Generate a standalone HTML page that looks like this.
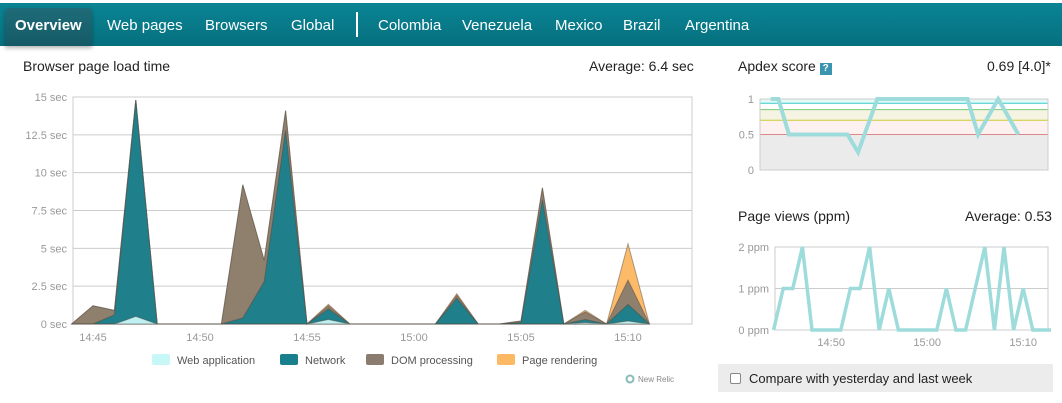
<!DOCTYPE html>
<html><head><meta charset="utf-8">
<style>
body{margin:0;width:1062px;height:403px;background:#fff;font-family:"Liberation Sans",sans-serif;overflow:hidden;position:relative}
#nav{position:absolute;left:0;top:3px;width:1062px;height:43px;background:linear-gradient(#0a8494,#06707f)}
.ni{position:absolute;top:14px;color:#fff;font-size:15px}
#ov{position:absolute;left:5px;top:5px;width:87px;height:38px;background:linear-gradient(#1e6c78,#145a66);border-radius:4px 4px 0 0;box-shadow:0 2px 4px rgba(0,0,0,.3)}
.t{position:absolute;font-size:14px;color:#222}
</style></head><body>
<div id="nav">
<div id="ov"></div>
<div class="ni" style="left:15px;font-weight:bold">Overview</div>
<div class="ni" style="left:107px">Web pages</div>
<div class="ni" style="left:205px">Browsers</div>
<div class="ni" style="left:291px">Global</div>
<div style="position:absolute;left:356px;top:9px;width:2px;height:25px;background:#fff"></div>
<div class="ni" style="left:378px">Colombia</div>
<div class="ni" style="left:462px">Venezuela</div>
<div class="ni" style="left:555px">Mexico</div>
<div class="ni" style="left:623px">Brazil</div>
<div class="ni" style="left:685px">Argentina</div>
</div>
<div class="t" style="left:23px;top:58px">Browser page load time</div>
<div class="t" style="left:589px;top:58px">Average: 6.4 sec</div>
<div class="t" style="left:738px;top:58px">Apdex score <span style="display:inline-block;width:12px;height:12px;background:#3a95b0;color:#fff;font-size:10px;text-align:center;line-height:12px;font-weight:bold">?</span></div>
<div class="t" style="left:987px;top:58px">0.69 [4.0]*</div>
<div class="t" style="left:738px;top:208px">Page views (ppm)</div>
<div class="t" style="left:965px;top:208px">Average: 0.53</div>
<div style="position:absolute;left:718px;top:364px;width:335px;height:28px;background:#ececec">
<div style="position:absolute;left:12px;top:9px;width:9px;height:9px;border:1px solid #888;background:#fff;border-radius:2px"></div>
<div style="position:absolute;left:31px;top:7px;font-size:13px;color:#222">Compare with yesterday and last week</div>
</div>
<svg id="svg" width="1062" height="403" style="position:absolute;left:0;top:0"></svg>
<script>
const minutes=[44,45,46,47,48,49,50,51,52,53,54,55,56,57,58,59,60,61,62,63,64,65,66,67,68,69,70,71];
const webApp=[0,0,0,0.5,0,0,0,0,0,0,0,0,0.3,0,0,0,0,0,0,0,0,0,0,0,0.1,0,0.2,0];
const network=[0,0,0.6,14.3,0,0,0,0,0.4,2.8,12.8,0,0.7,0,0,0,0,0,1.7,0,0,0.1,8.2,0,0.2,0,1.1,0];
const dom=[0,1.2,0.3,0,0,0,0,0,8.8,1.4,1.3,0,0.2,0,0,0,0,0,0.2,0,0,0.1,0.8,0,0.5,0,1.6,0];
const render=[0,0,0,0,0,0,0,0,0,0,0,0,0.1,0,0,0,0,0,0.1,0,0,0,0,0,0.1,0,2.4,0];
const yTicks=[0,2.5,5,7.5,10,12.5,15];
const yTickLabels=["0 sec","2.5 sec","5 sec","7.5 sec","10 sec","12.5 sec","15 sec"];
const xTicks=[45,50,55,60,65,70];
const xTickLabels=["14:45","14:50","14:55","15:00","15:05","15:10"];
const apdexTimes=[43.7,44.5,45.6,51.7,52.8,54.8,64.2,65.3,67.4,69.5];
const apdexVals=[1,1,0.5,0.5,0.25,1,1,0.5,1,0.5];
const pvMinutes=[44,45,46,47,48,49,50,51,52,53,54,55,56,57,58,59,60,61,62,63,64,65,66,67,68,69,70,71,72,72.9];
const pvVals=[0,1,1,2,0,0,0,0,1,1,2,0,1,0,0,0,0,0,1,0,0,1,2,0,2,0,1,0,0,0];
const pvTicks=[0,1,2];const pvTickLabels=["0 ppm","1 ppm","2 ppm"];
const pvXTicks=[50,60,70];const pvXLabels=["14:50","15:00","15:10"];

const S=document.getElementById('svg'),NS='http://www.w3.org/2000/svg';
function mk(t,a,n){const e=document.createElementNS(NS,t);for(const k in a)e.setAttribute(k,a[k]);


S.appendChild(e);return e;}
// main chart
const X=m=>93+(m-45)*21.4, Y=v=>324-v*(227/15);
yTicks.forEach((v,i)=>{mk('line',{x1:73,x2:692,y1:Y(v),y2:Y(v),stroke:'#ccc'},'y-gridline');
const t=mk('text',{x:67,y:Y(v)+4,'text-anchor':'end','font-size':11,fill:'#999'},'y-tick-label');t.textContent=yTickLabels[i];});
mk('rect',{x:73,y:97,width:619,height:227,fill:'none',stroke:'#ccc'},'plot-frame');
const series=[[webApp,'#c8f7f7'],[network,'#1a7f8c'],[dom,'#8a7c6e'],[render,'#fdb863']];
const names=['web-application-area','network-area','dom-processing-area','page-rendering-area'];
let cum=minutes.map(()=>0);const layers=[];
series.forEach(s=>{const lo=cum.slice();cum=cum.map((c,i)=>c+s[0][i]);layers.push([lo,cum.slice(),s[1]]);});
for(let k=layers.length-1;k>=0;k--){const[lo,hi,c]=layers[k];
let d='M'+minutes.map((m,i)=>X(m)+','+Y(hi[i])).join('L')+'L'+X(71)+','+Y(0)+'L'+X(44)+','+Y(0)+'Z';
mk('path',{d,fill:c,stroke:'rgba(80,70,60,0.5)','stroke-width':1,opacity:0.95},names[k]);}
xTicks.forEach((m,i)=>{const t=mk('text',{x:X(m),y:341,'text-anchor':'middle','font-size':11,fill:'#999'},'x-tick-label');t.textContent=xTickLabels[i];});
const leg=[['Web application','#c8f7f7',152],['Network','#1a7f8c',280],['DOM processing','#8a7c6e',366],['Page rendering','#fdb863',497]];
leg.forEach(l=>{mk('rect',{x:l[2],y:354,width:18,height:11,rx:2,fill:l[1]},'legend-swatch');
const t=mk('text',{x:l[2]+25,y:364,'font-size':11,fill:'#555'},'legend-entry');t.textContent=l[0];});
mk('circle',{cx:630,cy:379,r:3.5,fill:'none',stroke:'#8bb',"stroke-width":2},'new-relic-logo');
const nr=mk('text',{x:638,y:382,'font-size':8,fill:'#888'},'new-relic-label');nr.textContent='New Relic';
// apdex
const AX=m=>773.6+(m-44)*9.6, AY=v=>170-v*71;
mk('rect',{x:760,y:AY(0.5),width:288,height:AY(0)-AY(0.5),fill:'#ebebeb'},'apdex-band-poor');
mk('rect',{x:760,y:AY(0.7),width:288,height:AY(0.5)-AY(0.7),fill:'#fdf1ef'},'apdex-band-fair');
mk('rect',{x:760,y:AY(0.85),width:288,height:AY(0.7)-AY(0.85),fill:'#f5f3e2'},'apdex-band-good');
mk('rect',{x:760,y:AY(1),width:288,height:AY(0.94)-AY(1),fill:'#e4f9f6'},'apdex-band-excellent');
[[0.5,'#d88'],[0.7,'#cc3'],[0.85,'#7c7'],[0.94,'#3cc']].forEach(b=>mk('line',{x1:760,x2:1048,y1:AY(b[0]),y2:AY(b[0]),stroke:b[1]},'apdex-threshold'));
mk('rect',{x:760,y:AY(1),width:288,height:71,fill:'none',stroke:'#ccc'},'apdex-frame');
[[0,'0'],[0.5,'0.5'],[1,'1']].forEach(v=>{const t=mk('text',{x:754,y:AY(v[0])+4,'text-anchor':'end','font-size':11,fill:'#999'},'apdex-y-label');t.textContent=v[1];});
mk('polyline',{points:apdexTimes.map((m,i)=>AX(m)+','+AY(apdexVals[i])).join(' '),fill:'none',stroke:'#9edcdc','stroke-width':4},'apdex-line');
// page views
const PX=m=>773.6+(m-44)*9.6, PY=v=>330-v*41.5;
pvTicks.forEach((v,i)=>{mk('line',{x1:775,x2:1048,y1:PY(v),y2:PY(v),stroke:'#ccc'},'pv-gridline');
const t=mk('text',{x:769,y:PY(v)+4,'text-anchor':'end','font-size':11,fill:'#999'},'pv-y-label');t.textContent=pvTickLabels[i];});
mk('rect',{x:775,y:PY(2),width:273,height:83,fill:'none',stroke:'#ccc'},'pv-frame');
pvXTicks.forEach((m,i)=>{const t=mk('text',{x:PX(m),y:346,'text-anchor':'middle','font-size':11,fill:'#999'},'pv-x-label');t.textContent=pvXLabels[i];});
mk('polyline',{points:pvMinutes.map((m,i)=>PX(m)+','+PY(pvVals[i])).join(' '),fill:'none',stroke:'#9edcdc','stroke-width':3.5},'page-views-line');
</script>
</body></html>
